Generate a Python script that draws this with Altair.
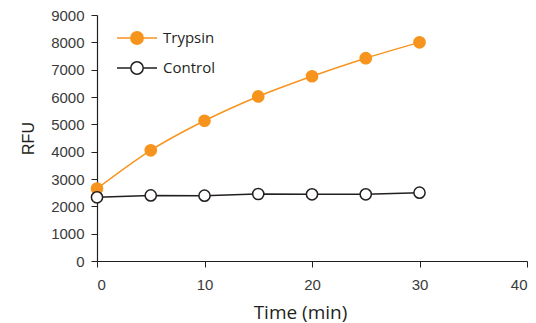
import altair as alt
import pandas as pd

times = [0, 5, 10, 15, 20, 25, 30]
trypsin = [2650, 4050, 5130, 6020, 6760, 7420, 8000]
control = [2330, 2400, 2390, 2450, 2440, 2440, 2500]
series_names = ["Trypsin", "Control"]
line_colors = ["#F7941D", "#231F20"]
fill_colors = ["#F7941D", "#FFFFFF"]

rows = []
for t, v in zip(times, trypsin):
    rows.append({"time": t, "value": v, "series": "Trypsin"})
for t, v in zip(times, control):
    rows.append({"time": t, "value": v, "series": "Control"})
df = pd.DataFrame(rows)

sym = "M-2,0H-0.62M0.62,0H2M0.62,0A0.62,0.62 0 1,1 -0.62,0A0.62,0.62 0 1,1 0.62,0Z"

x = alt.X("time:Q", title="Time (min)",
          scale=alt.Scale(domain=[0, 40], nice=False),
          axis=alt.Axis(values=[0, 10, 20, 30, 40], grid=False, tickSize=6, format="d",
                        labelPadding=10, titlePadding=11, titleFontSize=19, labelFontSize=15,
                        titleX=203,
                        labelFont="Liberation Sans", titleFont="Open Sans",
                        titleFontWeight="normal", labelColor="#3A3A3A", titleColor="#231F20"))
y = alt.Y("value:Q", title="RFU",
          scale=alt.Scale(domain=[0, 9000], nice=False),
          axis=alt.Axis(values=list(range(0, 9001, 1000)), grid=False, tickSize=6, format="d",
                        labelPadding=7, titlePadding=14, titleFontSize=16, labelFontSize=15,
                        labelFont="Liberation Sans", titleFont="Liberation Sans",
                        titleFontWeight="normal", labelColor="#3A3A3A", titleColor="#231F20"))

stroke_scale = alt.Scale(domain=series_names, range=line_colors)
fill_scale = alt.Scale(domain=series_names, range=fill_colors)

leg = alt.Legend(title=None, orient="none", legendX=29, legendY=12,
                 symbolType=sym, symbolSize=400, symbolStrokeWidth=1.5,
                 labelFontSize=15, labelFont="Open Sans", labelColor="#231F20",
                 labelOffset=15, rowPadding=9, symbolOpacity=1)

lines_t = alt.Chart(df).transform_filter(alt.datum.series == "Trypsin").mark_line(
    interpolate="monotone", strokeWidth=1.5).encode(
    x=x, y=y, stroke=alt.Stroke("series:N", scale=stroke_scale, legend=leg))
lines_c = alt.Chart(df).transform_filter(alt.datum.series == "Control").mark_line(
    strokeWidth=1.5).encode(
    x=x, y=y, stroke=alt.Stroke("series:N", scale=stroke_scale, legend=leg))
points = alt.Chart(df).mark_point(filled=False, size=125, strokeWidth=1.5, opacity=1).encode(
    x=x, y=y,
    stroke=alt.Stroke("series:N", scale=stroke_scale, legend=leg),
    fill=alt.Fill("series:N", scale=fill_scale, legend=leg),
)

chart = alt.layer(lines_t, lines_c, points).properties(
    width=430, height=246,
    autosize=alt.AutoSizeParams(type="none"),
    padding={"left": 89, "top": 7, "right": 1, "bottom": 62},
).configure_view(stroke=None).configure_axis(
    domainColor="#231F20", tickColor="#231F20", domainWidth=1.2,
)

chart.save("out.html", embed_options={"renderer": "svg", "actions": False})
